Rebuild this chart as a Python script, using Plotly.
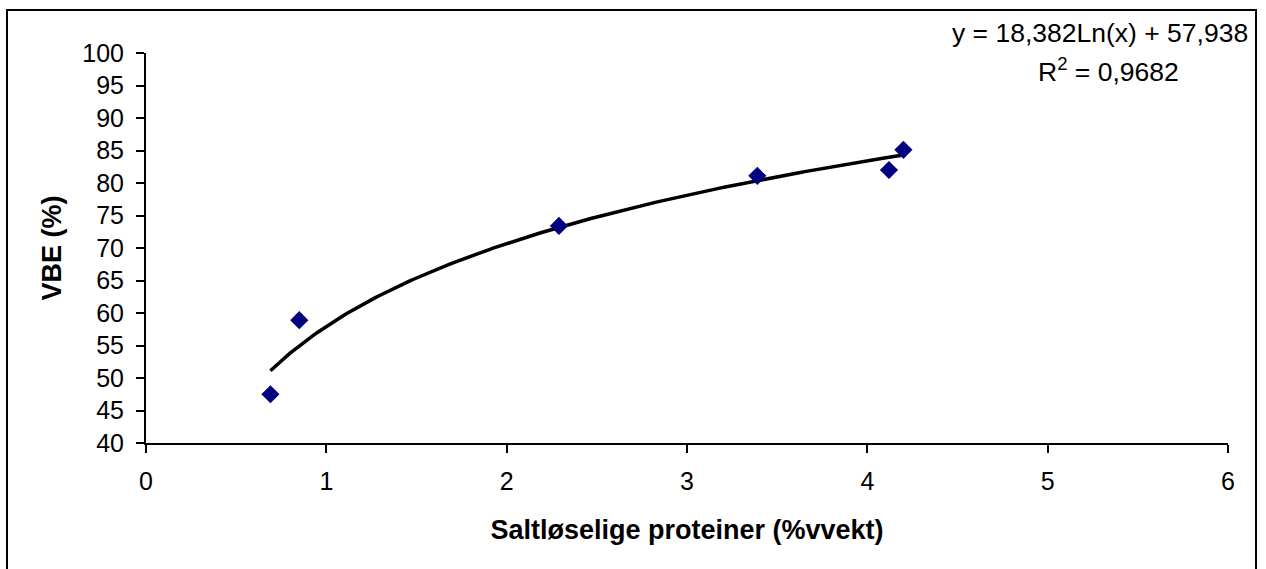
import numpy as np
import plotly.graph_objects as go

# Data
protein = [0.69, 0.85, 2.29, 3.39, 4.12, 4.20]
vbe = [47.5, 58.9, 73.4, 81.1, 82.0, 85.1]
coef_a = 18.382
coef_b = 57.938
x_ticks = [0, 1, 2, 3, 4, 5, 6]
y_ticks = [40, 45, 50, 55, 60, 65, 70, 75, 80, 85, 90, 95, 100]

FONT = "Liberation Sans, Arial, sans-serif"

xt = np.linspace(min(protein), max(protein), 200)
yt = coef_a * np.log(xt) + coef_b

fig = go.Figure()
fig.add_trace(go.Scatter(x=xt, y=yt, mode="lines",
                         line=dict(color="black", width=3.5), hoverinfo="skip"))
fig.add_trace(go.Scatter(x=protein, y=vbe, mode="markers",
                         marker=dict(symbol="diamond", size=14, color="#000080",
                                     line=dict(width=0))))

W, H = 1266, 569
L, R, T, B = 146, 38, 53, 126
fig.update_layout(
    width=W, height=H,
    margin=dict(l=L, r=R, t=T, b=B),
    paper_bgcolor="white", plot_bgcolor="white",
    showlegend=False,
    font=dict(family=FONT, size=25, color="black"),
    xaxis=dict(range=[0, 6], tickvals=x_ticks, ticks="outside", ticklen=8,
               tickwidth=2, tickcolor="black", showline=True, linecolor="black",
               linewidth=2, showgrid=False, zeroline=False,
               ticklabelstandoff=7,
               tickfont=dict(family=FONT, size=25),
               title=dict(text="<b>Saltløselige proteiner (%vvekt)</b>",
                          font=dict(family=FONT, size=27), standoff=26)),
    yaxis=dict(range=[40, 100], tickvals=y_ticks, ticks="outside", ticklen=8,
               tickwidth=2, tickcolor="black", showline=True, linecolor="black",
               linewidth=2, showgrid=False, zeroline=False,
               ticklabelstandoff=7,
               tickfont=dict(family=FONT, size=25),
               title=dict(text="<b>VBE (%)</b>",
                          font=dict(family=FONT, size=27), standoff=13)),
)

pw, ph = W - L - R, H - T - B
def px(xp):
    return (xp - L) / pw
def py(yp):
    return (H - B - yp) / ph

# outer chart border
fig.add_shape(type="rect", xref="paper", yref="paper",
              x0=px(7), x1=px(1256), y0=py(600), y1=py(10),
              line=dict(color="black", width=2), fillcolor="rgba(0,0,0,0)")

fig.add_annotation(xref="paper", yref="paper", x=px(1100), y=py(33),
                   text="y = 18,382Ln(x) + 57,938", showarrow=False,
                   xanchor="center", yanchor="middle",
                   font=dict(family=FONT, size=26.5, color="black"))
fig.add_annotation(xref="paper", yref="paper", x=px(1108), y=py(70),
                   text="R<sup>2</sup> = 0,9682", showarrow=False,
                   xanchor="center", yanchor="middle",
                   font=dict(family=FONT, size=26.5, color="black"))

fig.write_html("out.html")
